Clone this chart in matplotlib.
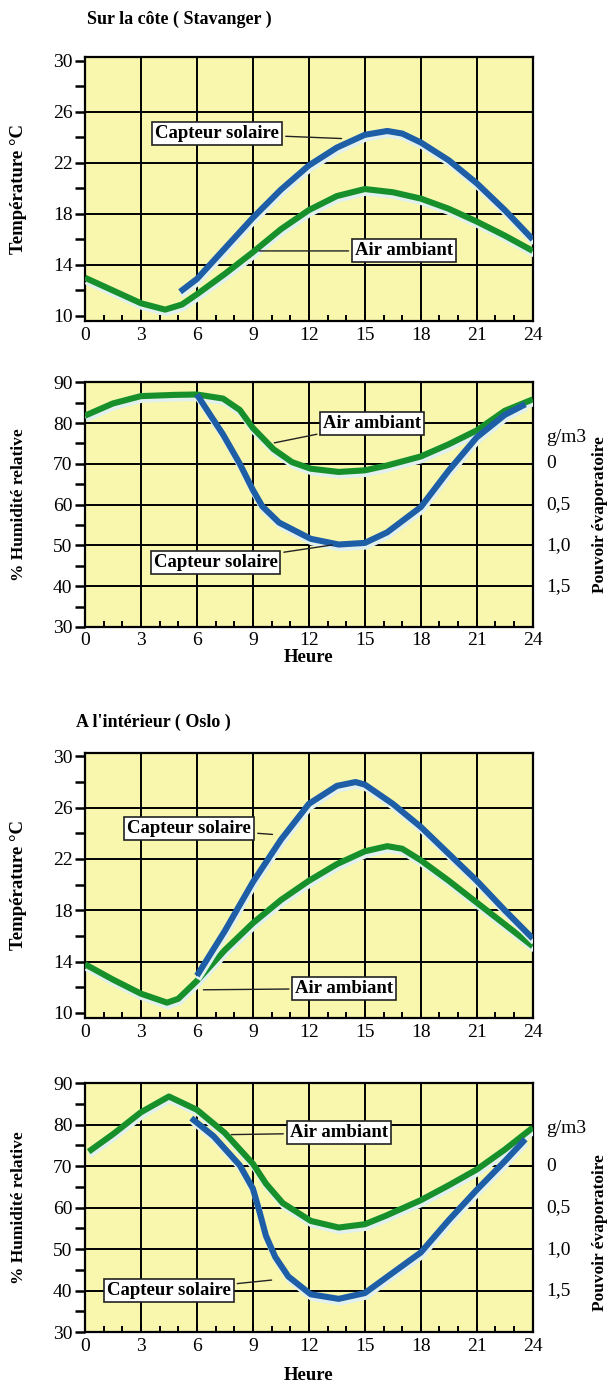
import matplotlib.pyplot as plt
import matplotlib.patheffects as pe
import matplotlib.transforms as mtransforms

plt.rcParams['font.family'] = ['Liberation Serif', 'DejaVu Serif']

# Stavanger - temperature
sta_t_air_h = [0, 1.5, 3, 4.3, 5.2, 6, 7.5, 9, 10.5, 12, 13.5, 15, 16.5, 18, 19.5, 21, 22.5, 24]
sta_t_air = [13.0, 12.0, 11.0, 10.5, 10.9, 11.7, 13.3, 15.0, 16.8, 18.3, 19.4, 19.95, 19.7, 19.2, 18.4, 17.4, 16.3, 15.1]
sta_t_cap_h = [5.1, 6, 7.5, 9, 10.5, 12, 13.5, 15, 16.2, 17, 18, 19.5, 21, 22.5, 24]
sta_t_cap = [11.9, 12.9, 15.3, 17.7, 19.9, 21.8, 23.2, 24.2, 24.5, 24.3, 23.6, 22.2, 20.4, 18.3, 16.0]

# Stavanger - humidity
sta_h_air_h = [0, 1.5, 3, 4.8, 6, 7.4, 8.3, 9, 10.1, 11.1, 12.1, 13.6, 15, 16.2, 18, 19.5, 21, 22.5, 24]
sta_h_air = [81.8, 84.8, 86.6, 86.9, 87.0, 86.0, 83.2, 78.8, 73.6, 70.4, 68.8, 68.0, 68.4, 69.6, 71.8, 74.8, 78.2, 83.0, 85.8]
sta_h_cap_h = [6, 7.4, 8.3, 9, 9.5, 10.4, 12.1, 13.6, 15, 16.2, 18, 19.5, 21, 22.5, 23.6]
sta_h_cap = [87.0, 77.2, 70.0, 63.6, 59.6, 55.6, 51.6, 50.2, 50.6, 53.2, 59.4, 68.4, 76.5, 82.0, 84.6]

# Oslo - temperature
osl_t_air_h = [0, 1.5, 3, 4.4, 5, 6, 7.5, 9, 10.5, 12, 13.5, 15, 16.2, 17, 18, 19.5, 21, 22.5, 24]
osl_t_air = [13.8, 12.6, 11.5, 10.8, 11.1, 12.5, 14.9, 17.0, 18.8, 20.3, 21.6, 22.6, 23.0, 22.8, 21.9, 20.3, 18.6, 16.9, 15.2]
osl_t_cap_h = [6, 7.5, 9, 10.5, 12, 13.5, 14.5, 15, 16.5, 18, 19.5, 21, 22.5, 24]
osl_t_cap = [12.9, 16.4, 20.2, 23.5, 26.3, 27.7, 28.0, 27.8, 26.3, 24.5, 22.4, 20.3, 18.0, 15.8]

# Oslo - humidity
osl_h_air_h = [0.2, 1.5, 3, 4.5, 6, 7.5, 9, 9.7, 10.6, 12.1, 13.6, 15, 16.1, 18, 19.5, 21, 22.5, 24]
osl_h_air = [73.5, 77.7, 83.0, 86.8, 83.6, 78.0, 70.6, 65.8, 61.1, 56.8, 55.2, 56.0, 58.0, 61.8, 65.4, 69.2, 74.0, 79.3]
osl_h_cap_h = [5.7, 6.9, 8.3, 9, 9.35, 9.7, 10.2, 10.9, 12.1, 13.6, 15, 16.1, 18, 19.5, 21, 22.5, 23.6]
osl_h_cap = [81.6, 77.2, 70.2, 64.6, 59.1, 53.2, 48.1, 43.4, 39.1, 38.0, 39.4, 43.0, 49.2, 57.0, 64.3, 71.2, 76.5]

hours = [0, 3, 6, 9, 12, 15, 18, 21, 24]
temp_ticks = [10, 14, 18, 22, 26, 30]
hum_ticks = [30, 40, 50, 60, 70, 80, 90]
evap_vals = [70, 60, 50, 40]
evap_labels = ['0', '0,5', '1,0', '1,5']

BG = '#f8f7ad'
BLUE = '#1d5ea6'
GREEN = '#17902c'
shadow = [pe.SimpleLineShadow(offset=(0.8, -2.6), shadow_color='#e2f1ee', alpha=1.0), pe.Normal()]
box = dict(boxstyle='square,pad=0.16', fc='white', ec='#222222', lw=1.2)
LBL = 13.5


def base_axes(rect, kind):
    ax = fig.add_axes(rect)
    ax.set_facecolor(BG)
    ax.set_xlim(0, 24)
    ax.set_xticks(hours)
    ax.set_xticks(range(25), minor=True)
    if kind == 'temp':
        ax.set_ylim(9.6, 30.3)
        ax.set_yticks(temp_ticks)
        ax.set_yticks([12, 16, 20, 24, 28], minor=True)
        for v in temp_ticks[1:-1]:
            ax.axhline(v, color='black', lw=1.4, zorder=1)
    else:
        ax.set_ylim(30, 90)
        ax.set_yticks(hum_ticks)
        ax.set_yticks([35, 45, 55, 65, 75, 85], minor=True)
        for v in hum_ticks[1:-1]:
            ax.axhline(v, color='black', lw=1.4, zorder=1)
    for h in hours[1:-1]:
        ax.axvline(h, color='black', lw=1.4, zorder=1)
    for s in ax.spines.values():
        s.set_linewidth(1.6)
    ax.tick_params(axis='y', which='both', direction='out', length=7, width=1.8, labelsize=14, pad=2)
    ax.tick_params(axis='x', which='both', direction='in', length=4, width=1.4, labelsize=14, pad=4)
    ax.tick_params(axis='x', which='major', length=5)
    ax.yaxis.set_label_coords(-0.13, 0.5)
    return ax


def evap_axis(ax, gm3_y, label_y):
    trans = mtransforms.blended_transform_factory(ax.transAxes, ax.transData)
    for v, t in zip(evap_vals, evap_labels):
        ax.text(1.03, v, t, transform=trans, ha='left', va='center', fontsize=14)
    ax.text(1.03, gm3_y, 'g/m3', transform=trans, ha='left', va='center', fontsize=14)
    ax.text(1.15, label_y, 'Pouvoir évaporatoire', transform=ax.transAxes, rotation=90,
            ha='center', va='center', fontsize=12.5, fontweight='bold')


def label(ax, text, xy, xytext):
    ax.annotate(text, xy=xy, xytext=xytext, ha='center', va='center',
                fontsize=LBL, fontweight='bold', bbox=box, zorder=6,
                arrowprops=dict(arrowstyle='-', color='#222222', lw=1))


def curve(ax, x, y, color, z):
    ax.plot(x, y, color=color, lw=4.4, solid_capstyle='butt', solid_joinstyle='round',
            path_effects=shadow, zorder=z)


fig = plt.figure(figsize=(6.11, 13.9), dpi=100)

# ---- Stavanger temperature
ax1 = base_axes([0.139, 0.769, 0.733, 0.190], 'temp')
curve(ax1, sta_t_air_h, sta_t_air, GREEN, 3)
curve(ax1, sta_t_cap_h, sta_t_cap, BLUE, 4)
ax1.set_ylabel('Température °C', fontsize=13.5, fontweight='bold')
label(ax1, 'Capteur solaire', (13.9, 23.9), (7.1, 24.3))
label(ax1, 'Air ambiant', (9.2, 15.1), (17.1, 15.1))
fig.text(0.142, 0.986, 'Sur la côte ( Stavanger )', fontsize=13, fontweight='bold', va='center')

# ---- Stavanger humidity
ax2 = base_axes([0.139, 0.549, 0.733, 0.176], 'hum')
curve(ax2, sta_h_air_h, sta_h_air, GREEN, 3)
curve(ax2, sta_h_cap_h, sta_h_cap, BLUE, 4)
ax2.set_ylabel('% Humidité relative', fontsize=12.5, fontweight='bold')
ax2.set_xlabel('Heure', fontsize=13.5, fontweight='bold', labelpad=0)
label(ax2, 'Air ambiant', (10.0, 75.0), (15.4, 80.0))
label(ax2, 'Capteur solaire', (13.4, 50.2), (7.0, 45.8))
evap_axis(ax2, 76.5, 0.46)

# ---- Oslo temperature
ax3 = base_axes([0.139, 0.2676, 0.733, 0.191], 'temp')
curve(ax3, osl_t_air_h, osl_t_air, GREEN, 3)
curve(ax3, osl_t_cap_h, osl_t_cap, BLUE, 4)
ax3.set_ylabel('Température °C', fontsize=13.5, fontweight='bold')
label(ax3, 'Capteur solaire', (10.2, 23.9), (5.6, 24.4))
label(ax3, 'Air ambiant', (6.2, 11.8), (13.9, 11.9))
fig.text(0.125, 0.480, "A l'intérieur ( Oslo )", fontsize=13, fontweight='bold', va='center')

# ---- Oslo humidity
ax4 = base_axes([0.139, 0.0417, 0.733, 0.179], 'hum')
curve(ax4, osl_h_air_h, osl_h_air, GREEN, 3)
curve(ax4, osl_h_cap_h, osl_h_cap, BLUE, 4)
ax4.set_ylabel('% Humidité relative', fontsize=12.5, fontweight='bold')
ax4.set_xlabel('Heure', fontsize=13.5, fontweight='bold', labelpad=9)
label(ax4, 'Air ambiant', (7.7, 77.6), (13.6, 78.0))
label(ax4, 'Capteur solaire', (10.15, 42.6), (4.5, 40.0))
evap_axis(ax4, 79.0, 0.40)

plt.savefig('out.png', dpi=100)
